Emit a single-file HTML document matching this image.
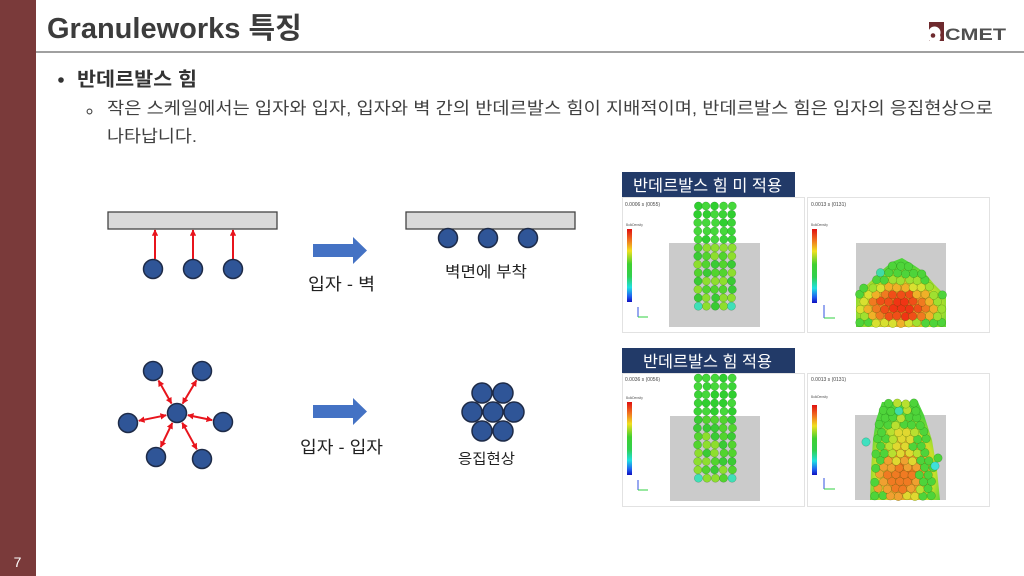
<!DOCTYPE html>
<html><head><meta charset="utf-8"><style>
html,body{margin:0;padding:0;background:#fff;}
svg{display:block;}
text{font-family:"Liberation Sans","Noto Sans CJK KR",sans-serif;}
</style></head><body>
<svg id="s" width="1024" height="576" viewBox="0 0 1024 576" xmlns="http://www.w3.org/2000/svg">
<defs>
<marker id="ah" viewBox="0 0 10 10" refX="9" refY="5" markerWidth="3.2" markerHeight="3.2" orient="auto-start-reverse"><path d="M0,0 L10,5 L0,10 z" fill="#e8141c"/></marker>
<linearGradient id="cb" x1="0" y1="0" x2="0" y2="1">
<stop offset="0" stop-color="#e01010"/><stop offset="0.15" stop-color="#f07020"/><stop offset="0.3" stop-color="#f0e020"/><stop offset="0.48" stop-color="#40d030"/><stop offset="0.65" stop-color="#30d050"/><stop offset="0.8" stop-color="#20e0e0"/><stop offset="0.92" stop-color="#2060f0"/><stop offset="1" stop-color="#1010c0"/>
</linearGradient>
<radialGradient id="mg" cx="0.5" cy="0.7" r="0.6"><stop offset="0" stop-color="#f05a18"/><stop offset="0.45" stop-color="#f0a028"/><stop offset="0.7" stop-color="#c8e02a"/><stop offset="1" stop-color="#4ed43a"/></radialGradient>
</defs>
<rect x="0" y="0" width="36" height="576" fill="#7a3a3a"/>
<text x="17.5" y="567" font-size="14" fill="#fff" text-anchor="middle">7</text>
<text x="47" y="38" font-size="29" font-weight="bold" fill="#3c3c3c">Granuleworks 특징</text>
<rect x="36" y="51" width="988" height="2" fill="#a0a0a0"/>
<!-- logo -->
<rect x="929" y="22" width="15" height="19" fill="#6e2a2e"/>
<path d="M929,30 A6,6 0 0 1 940,35 A6,6 0 0 1 929,40 Z" fill="#fff"/>
<circle cx="933" cy="35.5" r="2.3" fill="#6e2a2e"/>
<text x="945" y="40" font-size="17" font-weight="bold" fill="#505050" textLength="61" lengthAdjust="spacingAndGlyphs">CMET</text>
<!-- bullets -->
<circle cx="61" cy="80" r="2.8" fill="#333"/>
<text x="77" y="85.5" font-size="19" font-weight="bold" fill="#333" textLength="120" lengthAdjust="spacingAndGlyphs">반데르발스 힘</text>
<circle cx="89.5" cy="111.5" r="2.4" fill="none" stroke="#444" stroke-width="1.1"/>
<text x="107" y="114" font-size="17" fill="#404040" textLength="886" lengthAdjust="spacingAndGlyphs">작은 스케일에서는 입자와 입자, 입자와 벽 간의 반데르발스 힘이 지배적이며, 반데르발스 힘은 입자의 응집현상으로</text>
<text x="107" y="142" font-size="17" fill="#404040" textLength="90" lengthAdjust="spacingAndGlyphs">나타납니다.</text>
<!-- top-left diagram -->
<rect x="108" y="212" width="169" height="17" fill="#d9d9d9" stroke="#444" stroke-width="1.3"/>
<g stroke="#e8141c" stroke-width="2" marker-end="url(#ah)">
<line x1="155" y1="259" x2="155" y2="230"/><line x1="193" y1="259" x2="193" y2="230"/><line x1="233" y1="259" x2="233" y2="230"/>
</g>
<g fill="#2f5597" stroke="#1e2b48" stroke-width="1.5">
<circle cx="153" cy="269" r="9.5"/><circle cx="193" cy="269" r="9.5"/><circle cx="233" cy="269" r="9.5"/>
</g>
<path d="M313,244 H353 V237 L367,250.5 L353,264 V257 H313 Z" fill="#4472c4"/>
<text x="308" y="290" font-size="17" fill="#222" textLength="67" lengthAdjust="spacingAndGlyphs">입자 - 벽</text>
<rect x="406" y="212" width="169" height="17" fill="#d9d9d9" stroke="#444" stroke-width="1.3"/>
<g fill="#2f5597" stroke="#1e2b48" stroke-width="1.5">
<circle cx="448" cy="238" r="9.5"/><circle cx="488" cy="238" r="9.5"/><circle cx="528" cy="238" r="9.5"/>
</g>
<text x="445" y="277" font-size="15.5" fill="#222" textLength="82" lengthAdjust="spacingAndGlyphs">벽면에 부착</text>
<!-- bottom-left diagram -->
<g stroke="#e8141c" stroke-width="2" marker-start="url(#ah)" marker-end="url(#ah)">
<line x1="171.5" y1="403.5" x2="158.5" y2="380.5"/>
<line x1="182.6" y1="403.6" x2="196.4" y2="380.4"/>
<line x1="166.2" y1="415.2" x2="138.8" y2="420.8"/>
<line x1="187.8" y1="415.1" x2="212.2" y2="420.1"/>
<line x1="172.3" y1="422.9" x2="160.7" y2="447.1"/>
<line x1="182.2" y1="422.7" x2="196.8" y2="449.3"/>
</g>
<g fill="#2f5597" stroke="#1e2b48" stroke-width="1.5">
<circle cx="177" cy="413" r="9.5"/>
<circle cx="153" cy="371" r="9.5"/><circle cx="202" cy="371" r="9.5"/>
<circle cx="128" cy="423" r="9.5"/><circle cx="223" cy="422" r="9.5"/>
<circle cx="156" cy="457" r="9.5"/><circle cx="202" cy="459" r="9.5"/>
</g>
<path d="M313,405 H353 V398 L367,411.5 L353,425 V418 H313 Z" fill="#4472c4"/>
<text x="300" y="453" font-size="17" fill="#222" textLength="83" lengthAdjust="spacingAndGlyphs">입자 - 입자</text>
<g fill="#2f5597" stroke="#1e2b48" stroke-width="1.5">
<circle cx="482" cy="393" r="10"/><circle cx="503" cy="393" r="10"/>
<circle cx="472" cy="412" r="10"/><circle cx="514" cy="412" r="10"/>
<circle cx="482" cy="431" r="10"/><circle cx="503" cy="431" r="10"/>
<circle cx="493" cy="412" r="10"/>
</g>
<text x="458" y="464" font-size="14.5" fill="#222" textLength="57" lengthAdjust="spacingAndGlyphs">응집현상</text>
<!-- labels -->
<rect x="622" y="172" width="173" height="25" fill="#223a68"/>
<text x="633" y="191" font-size="16" fill="#fff" textLength="149" lengthAdjust="spacingAndGlyphs">반데르발스 힘 미 적용</text>
<rect x="622" y="348" width="173" height="25" fill="#223a68"/>
<text x="643" y="367" font-size="16" fill="#fff" textLength="129" lengthAdjust="spacingAndGlyphs">반데르발스 힘 적용</text>
<!-- panels -->
<g fill="#fff" stroke="#e2e2e2" stroke-width="1">
<rect x="622.5" y="197.5" width="182" height="135"/>
<rect x="807.5" y="197.5" width="182" height="135"/>
<rect x="622.5" y="373.5" width="182" height="133"/>
<rect x="807.5" y="373.5" width="182" height="133"/>
</g>
<g fill="#cbcbcb">
<rect x="669" y="243" width="91" height="84"/>
<rect x="856" y="243" width="90" height="84"/>
<rect x="670" y="416" width="90" height="85"/>
<rect x="855" y="415" width="91" height="85"/>
</g>
<g fill="url(#cb)">
<rect x="627" y="229" width="5" height="73"/>
<rect x="812" y="229" width="5" height="74"/>
<rect x="627" y="402" width="5" height="73"/>
<rect x="812" y="405" width="5" height="70"/>
</g>
<g font-size="5" fill="#444">
<text x="625" y="206">0.0006 s (0055)</text>
<text x="811" y="206">0.0013 s (0131)</text>
<text x="625" y="381">0.0036 s (0056)</text>
<text x="811" y="381">0.0013 s (0131)</text>
</g>
<g font-size="3.2" fill="#555">
<text x="626" y="226">BulkDensity</text><text x="811" y="226">BulkDensity</text>
<text x="626" y="399">BulkDensity</text><text x="811" y="398">BulkDensity</text>
</g>
<g stroke-width="1">
<line x1="638" y1="307" x2="638" y2="317" stroke="#3050e0"/><line x1="638" y1="317" x2="648" y2="317" stroke="#30d040"/>
<line x1="824" y1="305" x2="824" y2="318" stroke="#3050e0"/><line x1="824" y1="318" x2="835" y2="318" stroke="#30d040"/>
<line x1="638" y1="480" x2="638" y2="490" stroke="#3050e0"/><line x1="638" y1="490" x2="648" y2="490" stroke="#30d040"/>
<line x1="824" y1="478" x2="824" y2="489" stroke="#3050e0"/><line x1="824" y1="489" x2="835" y2="489" stroke="#30d040"/>
</g>
<!-- fallback blobs -->
<polygon points="856,327 856,292 868,284 880,272 892,262 902,258 912,264 924,272 934,284 946,296 946,327" fill="url(#mg)"/>
<polygon points="870,500 871,470 873,440 876,420 882,402 918,402 924,415 932,440 937,470 940,500" fill="url(#mg)"/>
<g id="p1"></g><g id="p2"></g><g id="p3"></g><g id="p4"></g>
</svg>
<script>
(function(){
var NS='http://www.w3.org/2000/svg';
var s=12345;function rnd(){s=(s*16807)%2147483647;return s/2147483647;}
function C(g,x,y,r,f){var c=document.createElementNS(NS,'circle');c.setAttribute('cx',x.toFixed(1));c.setAttribute('cy',y.toFixed(1));c.setAttribute('r',r);c.setAttribute('fill',f);c.setAttribute('stroke','rgba(0,70,0,0.35)');c.setAttribute('stroke-width','0.5');g.appendChild(c);}
function grid(id,y0){var g=document.getElementById(id);var xs=[698,706.5,715,723.5,732];
for(var i=0;i<13;i++)for(var j=0;j<5;j++){var f;
 if(i<5){f=['#2fcf2f','#3ad436','#45d83a'][Math.floor(rnd()*3)];}
 else{var r=rnd();f=r<0.35?'#8ede2e':(r<0.7?'#52d42e':'#3acb34');}
 if(i==12&&(j==0||j==4))f='#3fe0b8';
 C(g,xs[j]+(rnd()-0.5)*1.2,y0+i*8.35,4.1,f);}}
grid('p1',206);grid('p3',378);
function interp(pts,x){for(var i=0;i<pts.length-1;i++){var a=pts[i][0],b=pts[i][1],c=pts[i+1][0],d=pts[i+1][1];if(x>=a&&x<=c)return b+(d-b)*(x-a)/(c-a);}return 999;}
var top=[[856,292],[868,284],[880,272],[892,262],[902,258],[912,264],[924,272],[934,284],[946,296]];
var g2=document.getElementById('p2');var k=0;
for(var y=323;y>=255;y-=7.1){var off=(k%2)*4.1;k++;
 for(var x=860+off;x<=944;x+=8.2){var t=interp(top,x);if(y<t)continue;
  var ry=y>311?16:34;
  var e=Math.sqrt(Math.pow((x-900)/46,2)+Math.pow((y-311)/ry,2))+(rnd()-0.5)*0.12;
  var f=e<0.35?'#f03414':e<0.5?'#f04e18':e<0.62?'#f07a20':e<0.74?'#f0b028':e<0.85?'#d8e030':e<0.95?'#a0e030':'#4ed43a';
  if(y<t+6&&rnd()<0.1)f='#40dca8';
  C(g2,x+(rnd()-0.5)*1.5,y+(rnd()-0.5)*1.5,4.2,f);}}
var xl=[[400,882],[420,876],[440,873],[470,871],[501,870]],xr=[[400,918],[415,924],[440,932],[470,937],[501,940]];
function iy(p,y){for(var i=0;i<p.length-1;i++){if(y>=p[i][0]&&y<=p[i+1][0])return p[i][1]+(p[i+1][1]-p[i][1])*(y-p[i][0])/(p[i+1][0]-p[i][0]);}return p[p.length-1][1];}
var g4=document.getElementById('p4');k=0;
for(var y=496;y>=403;y-=7.1){var off=(k%2)*4.1;k++;var L=iy(xl,y)+4,R=iy(xr,y)-4;
 for(var x=L+off;x<=R;x+=8.2){
  var e1=Math.sqrt(Math.pow((x-898)/26,2)+Math.pow((y-478)/20,2))+(rnd()-0.5)*0.15;
  var dx=Math.abs(x-(L+R)/2)/((R-L)/2+0.01);
  var f;
  if(e1<0.6)f='#f07a22';else if(e1<0.9)f='#f0a030';
  else if(y>430&&dx<0.35)f='#e0d830';
  else if(dx<0.6&&rnd()<0.7)f='#b8e030';
  else f='#4ed43a';
  if(y<412&&rnd()<0.2)f='#40dca8';
  C(g4,x+(rnd()-0.5)*1.5,y+(rnd()-0.5)*1.5,4.2,f);}}
C(g4,935,466,4.2,'#40e0d8');C(g4,938,458,4.2,'#4ed43a');C(g4,866,442,4.2,'#40e0c0');
})();
</script>
</body></html>
